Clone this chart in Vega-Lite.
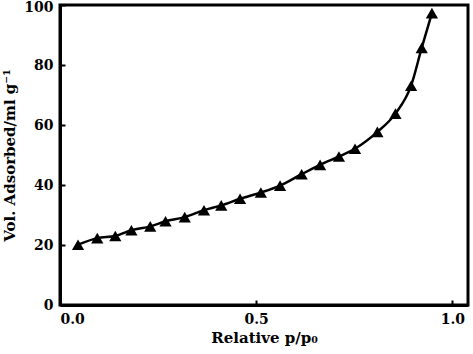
{
  "$schema": "https://vega.github.io/schema/vega-lite/v6.json",
  "width": 408,
  "height": 300,
  "autosize": "none",
  "padding": {"left": 60, "top": 5, "right": 5, "bottom": 49},
  "background": "white",
  "config": {
    "view": {"stroke": "black", "strokeWidth": 3},
    "font": "DejaVu Serif"
  },
  "data": {
    "values": [
      {"p": 0.046, "v": 20.1},
      {"p": 0.095, "v": 22.3},
      {"p": 0.141, "v": 23.0},
      {"p": 0.182, "v": 24.9},
      {"p": 0.230, "v": 26.2},
      {"p": 0.269, "v": 27.9},
      {"p": 0.318, "v": 29.3},
      {"p": 0.367, "v": 31.6},
      {"p": 0.411, "v": 33.2},
      {"p": 0.459, "v": 35.4},
      {"p": 0.512, "v": 37.5},
      {"p": 0.561, "v": 39.8},
      {"p": 0.616, "v": 43.6},
      {"p": 0.663, "v": 46.7},
      {"p": 0.711, "v": 49.5},
      {"p": 0.752, "v": 52.1},
      {"p": 0.809, "v": 57.7},
      {"p": 0.855, "v": 63.8},
      {"p": 0.895, "v": 73.1},
      {"p": 0.922, "v": 85.7},
      {"p": 0.948, "v": 97.3}
    ]
  },
  "encoding": {
    "x": {
      "field": "p", "type": "quantitative",
      "scale": {"domain": [0, 1.04], "nice": false, "zero": false},
      "axis": {
        "values": [0, 0.5, 1.0], "format": ".1f", "grid": false,
        "title": "Relative p/p₀",
        "domainColor": "black", "domainWidth": 3,
        "tickColor": "black", "tickWidth": 2, "tickSize": -5,
        "labelFont": "DejaVu Serif", "labelFontWeight": "bold", "labelFontSize": 14, "labelColor": "black",
        "labelPadding": 12, "labelFlush": true,
        "titleFont": "DejaVu Serif", "titleFontWeight": "bold", "titleFontSize": 15, "titleColor": "black",
        "titlePadding": 4
      }
    },
    "y": {
      "field": "v", "type": "quantitative",
      "scale": {"domain": [0, 100], "nice": false},
      "axis": {
        "values": [0, 20, 40, 60, 80, 100], "grid": false,
        "title": "Vol. Adsorbed/ml g⁻¹",
        "domainColor": "black", "domainWidth": 3,
        "tickColor": "black", "tickWidth": 2, "tickSize": -5,
        "labelFont": "DejaVu Serif", "labelFontWeight": "bold", "labelFontSize": 14, "labelColor": "black",
        "labelPadding": 12,
        "labelOffset": {"condition": {"test": "datum.value == 100", "value": 2}, "value": 0},
        "titleFont": "DejaVu Serif", "titleFontWeight": "bold", "titleFontSize": 15, "titleColor": "black",
        "titlePadding": 6
      }
    }
  },
  "layer": [
    {"mark": {"type": "line", "color": "black", "strokeWidth": 2.5, "interpolate": "monotone"}},
    {"mark": {"type": "point", "shape": "triangle-up", "filled": true, "color": "black", "opacity": 1, "size": 150}}
  ]
}
